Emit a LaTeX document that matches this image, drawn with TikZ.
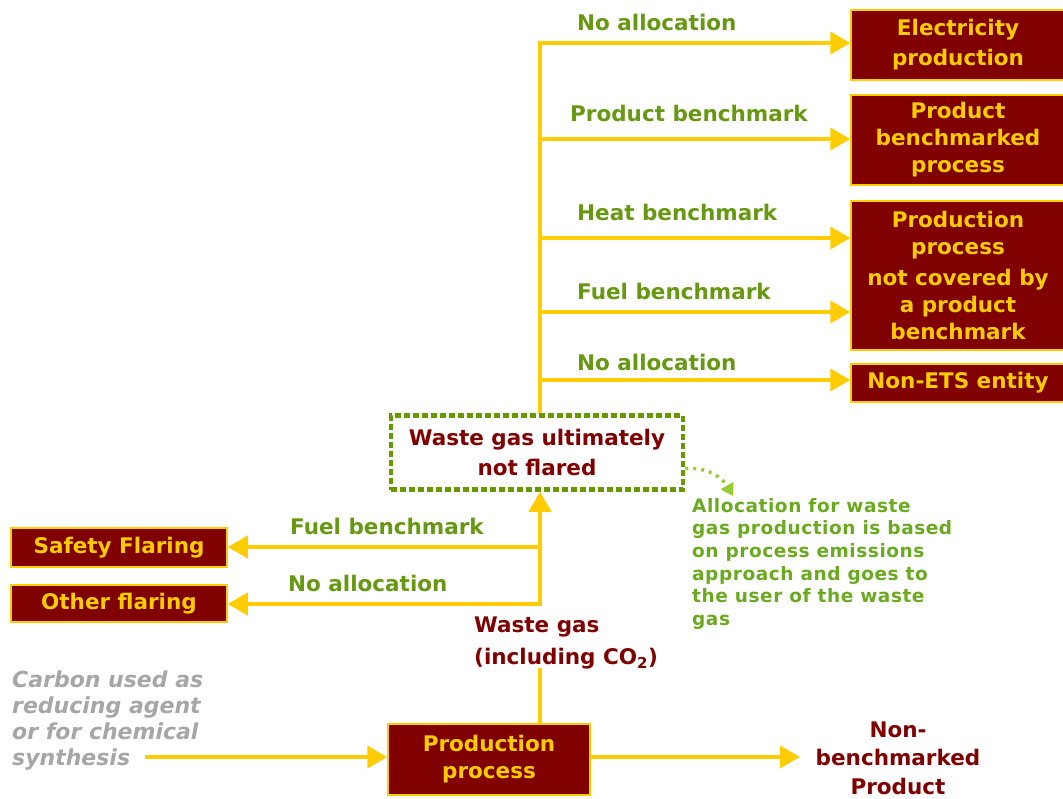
\documentclass[tikz,border=0pt]{standalone}
\usepackage{fontspec}
\setmainfont{DejaVu Sans}
\newfontfamily\notefont[LetterSpace=3]{DejaVu Sans}
\usetikzlibrary{arrows.meta,positioning}
\definecolor{gold}{HTML}{FFCC00}
\definecolor{boxred}{HTML}{800000}
\definecolor{lblgreen}{HTML}{669911}
\definecolor{dashgreen}{HTML}{669900}
\definecolor{notegreen}{HTML}{6AAA1F}
\definecolor{dotgreen}{HTML}{99CC33}
\definecolor{carbongray}{HTML}{A6A6A6}
\tikzset{
  mainfont/.style={font=\fontsize{21.5}{27}\selectfont\bfseries},
  redbox/.style={mainfont, draw=gold, line width=1.5pt, fill=boxred, text=gold,
    align=center, inner sep=0pt},
  flow/.style={draw=gold, line width=4pt, -{Triangle[length=20pt,width=22pt]}},
  plain/.style={draw=gold, line width=4pt},
  lbl/.style={mainfont, text=lblgreen, anchor=west, inner sep=0pt},
  darktext/.style={mainfont, text=boxred, align=center},
}
\begin{document}
\begin{tikzpicture}[x=1pt,y=-1pt]
\useasboundingbox (0,0) rectangle (1063,798);

% destination boxes on the right
\node[redbox, minimum width=214pt, minimum height=70pt] (elec) at (958,45)
  {\raisebox{-2pt}{Electricity}\\[5pt]production};
\node[redbox, minimum width=214pt, minimum height=90pt] (pbp) at (958,140)
  {Product\\benchmarked\\process};
\node[redbox, minimum width=214pt, minimum height=149pt] (ncov) at (958,275.5)
  {Production\\process\\[4pt]not covered by\\a product\\benchmark};
\node[redbox, minimum width=214pt, minimum height=38pt] (nets) at (958,383)
  {Non-ETS entity};

% flaring boxes on the left
\node[redbox, minimum width=216pt, minimum height=39pt] (safety) at (119,547.5)
  {Safety Flaring};
\node[redbox, minimum width=216pt, minimum height=37pt] (other) at (119,603.5)
  {Other flaring};

% production process
\node[redbox, minimum width=202pt, minimum height=71pt] (prod) at (489,759.5)
  {\raisebox{-4pt}{Production}\\[4pt]process};

% waste gas box (dashed)
\node[darktext, draw=dashgreen, line width=4.5pt, dash pattern=on 6pt off 3pt,
  minimum width=292pt, minimum height=74pt, inner sep=0pt] (wg) at (537,452.5)
  {Waste gas ultimately\\[3pt]not flared};

% branching points
\coordinate (top) at (540,43);
\coordinate (b2) at (540,139);
\coordinate (b3) at (540,238);
\coordinate (b4) at (540,312);
\coordinate (b5) at (540,380);
\coordinate (l1) at (540,547);
\coordinate (l2) at (540,604);

% trunk and branches to the right
\draw[plain] (wg.north -| top) -- (top);
\draw[flow] ([xshift=-2pt]top) -- (top -| elec.west);
\draw[flow] (b2) -- (b2 -| pbp.west);
\draw[flow] (b3) -- (b3 -| ncov.west);
\draw[flow] (b4) -- (b4 -| ncov.west);
\draw[flow] (b5) -- (b5 -| nets.west);

% branch labels
\node[lbl] (lb1) at (577,22) {No allocation};
\node[lbl] (lb2) at (570,113) {Product benchmark};
\node[lbl] (lb3) at (577,212) {Heat benchmark};
\node[lbl] (lb4) at (577,291) {Fuel benchmark};
\node[lbl] (lb5) at (577,362) {No allocation};

% lower part: waste gas rising and the flaring branches
\draw[flow] ([yshift=-2pt]l2) -- (wg.south -| l2);
\draw[flow] ([xshift=2pt]l1) -- (l1 -| safety.east);
\draw[flow] ([xshift=2pt]l2) -- (l2 -| other.east);
\node[lbl] (lb6) at (290,526) {Fuel benchmark};
\node[lbl] (lb7) at (288,583) {No allocation};

% waste gas label and its feed
\node[darktext, align=left, anchor=north west, inner sep=0pt] (wgl) at (474,617)
  {Waste gas\\[5pt](including CO\textsubscript{2})};
\coordinate (wgfoot) at (540,668);
\draw[plain] (prod.north -| wgfoot) -- (wgfoot);

% carbon input
\node[font=\fontsize{22}{26}\selectfont\bfseries\itshape, text=carbongray,
  align=left, anchor=north west, inner sep=0pt] (carbon) at (12,671)
  {Carbon used as\\reducing agent\\or for chemical\\synthesis};
\coordinate (cin) at (145,757);
\draw[flow] (cin) -- (cin -| prod.west);

% output product
\node[darktext, inner sep=0pt] (nbp) at (898,758)
  {Non-\\[1pt]benchmarked\\[2pt]Product};
\coordinate (nbin) at (800,757);
\draw[flow] (prod.east |- nbin) -- (nbin);

% note on allocation
\node[font=\fontsize{18.5}{22.6}\selectfont\notefont\bfseries, text=notegreen,
  align=left, anchor=north west, inner sep=0pt] (note) at (692,498)
  {Allocation for waste\\gas production is based\\on process emissions\\approach and goes to\\the user of the waste\\gas};
\coordinate (nt) at (733,496);
\draw[dotgreen, line width=3.5pt, dash pattern=on 3pt off 5pt,
  -{Triangle[length=12pt,width=14pt]}]
  ([yshift=-16pt]wg.east) to[out=5,in=120] (nt);
\end{tikzpicture}
\end{document}
